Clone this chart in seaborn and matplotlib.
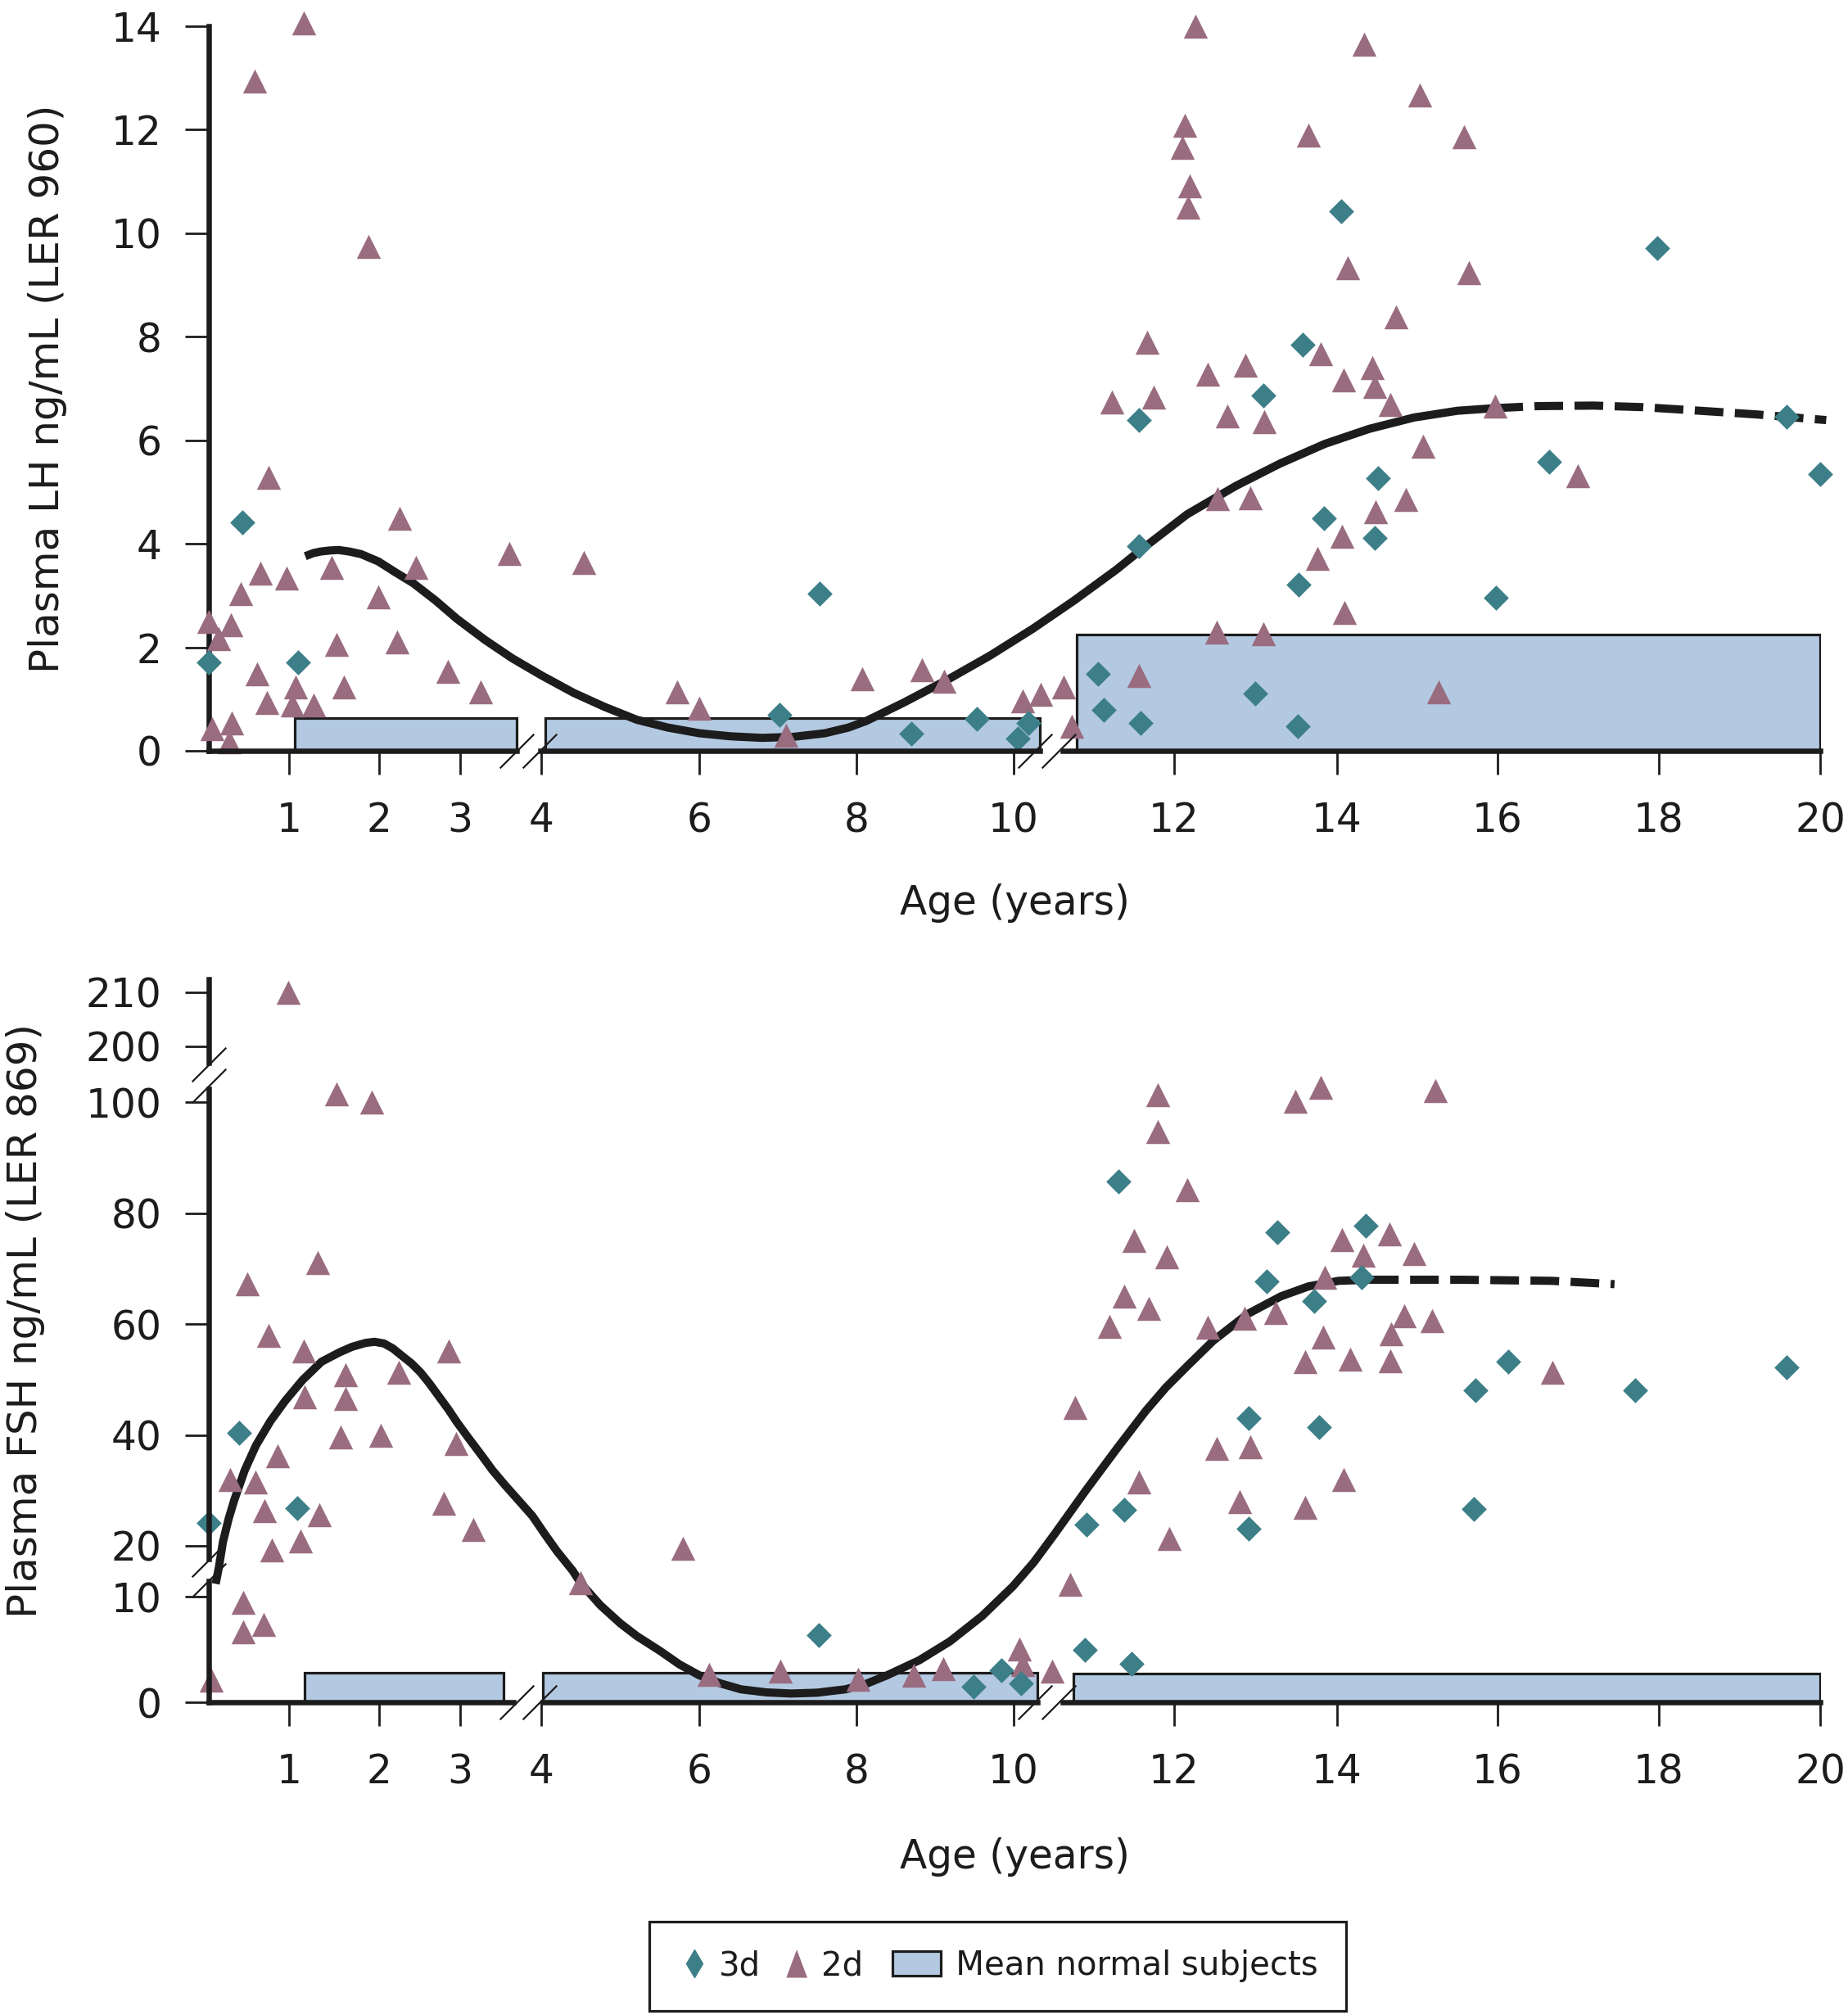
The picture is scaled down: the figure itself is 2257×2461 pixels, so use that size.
import numpy as np
import pandas as pd
import matplotlib
matplotlib.use("Agg")
import matplotlib.pyplot as plt
import seaborn as sns
from matplotlib.lines import Line2D
from matplotlib.patches import Patch, Rectangle
from matplotlib.legend_handler import HandlerPatch

AGE_KNOTS = [-1, 0, 1, 2, 3, 4, 6, 8, 10, 12, 14, 16, 18, 20, 21]
AGE_POS = [156, 254.5, 353, 463, 562, 661, 854, 1046, 1238, 1434, 1633, 1829, 2026, 2223.5, 2322]
FSH_KNOTS = [-10, 0, 10, 11.5, 17, 20, 100, 104, 196, 200, 210, 220]
FSH_POS = [-128.8, 0, 128.8, 148.1, 171.0, 191.3, 732.8, 759.8, 775.5, 801.6, 867.3, 933]

X_TICKS = [1, 2, 3, 4, 6, 8, 10, 12, 14, 16, 18, 20]
X_LABELS = ["1", "2", "3", "4", "6", "8", "10", "12", "14", "16", "18", "20"]
LH_TICKS = [0, 2, 4, 6, 8, 10, 12, 14]
FSH_TICKS = [0, 10, 20, 40, 60, 80, 100, 200, 210]

# ---------------- LH panel data (age, ng/mL) ----------------
LH_2D = [(1.16, 14.06), (0.57, 12.94), (1.88, 9.74), (0.75, 5.28), (2.25, 4.50), (1.47, 3.54),
         (2.45, 3.54), (3.61, 3.81), (0.64, 3.44), (0.97, 3.33), (0.40, 3.04), (1.99, 2.97),
         (0.00, 2.50), (0.28, 2.43), (0.13, 2.17), (1.53, 2.05), (2.22, 2.10), (0.60, 1.49),
         (2.85, 1.54), (1.61, 1.24), (1.07, 1.24), (3.25, 1.14), (0.73, 0.94), (1.04, 0.89),
         (1.27, 0.89), (0.05, 0.43), (0.29, 0.53), (0.26, 0.18), (4.54, 3.64), (5.72, 1.14),
         (6.00, 0.82), (7.10, 0.30), (8.07, 1.39), (8.83, 1.56), (9.11, 1.34), (10.11, 0.96),
         (10.34, 1.09), (10.62, 1.23), (10.72, 0.48), (11.56, 1.46), (11.22, 6.74), (11.74, 6.84),
         (11.66, 7.90), (12.26, 14.00), (14.34, 13.65), (15.03, 12.67), (12.13, 12.09),
         (12.10, 11.66), (13.65, 11.89), (15.58, 11.87), (12.19, 10.91), (12.17, 10.50),
         (14.13, 9.34), (15.64, 9.24), (14.73, 8.38), (13.80, 7.68), (14.44, 7.40), (12.87, 7.45),
         (12.41, 7.27), (14.08, 7.17), (14.47, 7.04), (14.66, 6.69), (15.97, 6.66), (12.65, 6.47),
         (13.11, 6.36), (15.07, 5.88), (16.99, 5.31), (12.53, 4.87), (12.93, 4.89), (14.86, 4.85),
         (14.48, 4.62), (14.06, 4.15), (13.76, 3.71), (14.09, 2.68), (12.52, 2.30), (13.10, 2.27),
         (15.27, 1.14)]
LH_3D = [(0.42, 4.42), (0.00, 1.71), (1.10, 1.71), (7.02, 0.69), (7.53, 3.03), (8.70, 0.33),
         (9.53, 0.61), (10.18, 0.53), (10.05, 0.23), (11.05, 1.49), (11.12, 0.79), (11.58, 0.53),
         (11.56, 3.96), (11.56, 6.39), (14.05, 10.42), (17.98, 9.71), (13.58, 7.85), (13.10, 6.87),
         (19.58, 6.46), (16.64, 5.58), (20.00, 5.35), (14.51, 5.26), (13.84, 4.49), (14.47, 4.12),
         (13.53, 3.21), (15.98, 2.96), (12.99, 1.11), (13.52, 0.48)]
LH_CURVE = [(1.18, 3.76), (1.27, 3.82), (1.35, 3.85), (1.45, 3.87), (1.55, 3.88), (1.67, 3.85),
            (1.80, 3.80), (1.99, 3.66), (2.20, 3.45), (2.42, 3.24), (2.70, 2.90), (2.96, 2.55),
            (3.30, 2.15), (3.64, 1.79), (4.00, 1.46), (4.41, 1.12), (4.80, 0.85), (5.21, 0.60),
            (5.60, 0.45), (6.00, 0.34), (6.40, 0.28), (6.80, 0.25), (7.20, 0.27), (7.60, 0.34),
            (7.90, 0.45), (8.13, 0.58), (8.60, 0.93), (9.19, 1.40), (9.70, 1.84), (10.24, 2.36),
            (10.75, 2.90), (11.28, 3.50), (11.56, 3.85), (12.16, 4.57), (12.76, 5.12),
            (13.30, 5.55), (13.85, 5.93), (14.40, 6.22), (14.96, 6.44), (15.50, 6.57),
            (15.96, 6.62)]
LH_CURVE_EXT = [(15.96, 6.62), (16.50, 6.66), (17.19, 6.67), (17.80, 6.64), (18.31, 6.59),
                (19.20, 6.50), (20.07, 6.39)]
LH_BOX_START = [1.06, 4.05, 10.79]
LH_BOX_END = [3.70, 10.33, 20.0]
LH_BOX_MEAN = [0.63, 0.63, 2.25]

# ---------------- FSH panel data (age, ng/mL) ----------------
FSH_2D = [(0.99, 210.0), (1.53, 101.5), (1.92, 100.1), (1.32, 71.1), (0.48, 67.3), (0.75, 57.9),
          (1.16, 55.1), (2.86, 55.1), (1.63, 50.8), (2.24, 51.3), (1.17, 46.8), (1.63, 46.6),
          (1.57, 39.7), (2.02, 40.0), (2.95, 38.4), (0.86, 36.2), (0.27, 31.9), (0.58, 31.5),
          (2.80, 27.7), (0.70, 26.3), (1.34, 25.6), (3.16, 23.0), (1.13, 20.8), (0.79, 19.25),
          (0.43, 9.5), (0.43, 6.7), (0.69, 7.4), (0.04, 2.1), (4.50, 11.34), (5.79, 19.5),
          (6.12, 2.67), (7.03, 2.97), (8.02, 2.18), (8.73, 2.57), (9.10, 3.17), (10.07, 5.05),
          (10.11, 3.56), (10.48, 2.97), (10.70, 11.2), (10.77, 44.9), (11.56, 31.5), (11.94, 21.3),
          (11.19, 59.6), (11.38, 65.0), (11.68, 62.8), (11.50, 75.1), (11.91, 72.1), (11.80, 101.4),
          (11.80, 94.8), (12.16, 84.3), (13.80, 102.7), (13.49, 100.2), (15.22, 102.1),
          (14.06, 75.3), (14.65, 76.2), (14.33, 72.4), (14.96, 72.7), (13.85, 68.4), (13.25, 62.1),
          (12.86, 61.1), (12.41, 59.4), (14.84, 61.5), (15.18, 60.6), (13.83, 57.7), (14.67, 58.2),
          (13.61, 53.2), (14.16, 53.7), (14.66, 53.4), (16.68, 51.3), (12.52, 37.6), (12.93, 37.8),
          (14.08, 31.9), (12.80, 27.9), (13.61, 26.9)]
FSH_3D = [(0.38, 40.3), (1.09, 26.8), (0.00, 24.1), (7.52, 6.39), (9.49, 1.49), (9.84, 3.07),
          (10.09, 1.83), (10.89, 4.95), (10.91, 23.8), (11.38, 26.5), (11.47, 3.7), (11.31, 85.7),
          (13.27, 76.5), (14.36, 77.8), (13.14, 67.7), (14.31, 68.4), (13.72, 64.1), (16.13, 53.2),
          (15.72, 48.0), (17.71, 48.0), (19.58, 52.2), (12.91, 43.0), (13.78, 41.4), (15.70, 26.7),
          (12.91, 23.1)]
FSH_CURVE = [(0.09, 11.24), (0.13, 15.5), (0.18, 20.66), (0.25, 24.8), (0.32, 28.2), (0.45, 33.6),
             (0.59, 38.1), (0.77, 42.5), (0.95, 46.1), (1.15, 49.9), (1.36, 53.2), (1.56, 54.9),
             (1.70, 55.9), (1.85, 56.6), (1.95, 56.8), (2.06, 56.5), (2.17, 55.6), (2.28, 54.3),
             (2.40, 52.9), (2.51, 51.3), (2.62, 49.3), (2.73, 47.1), (2.85, 44.7), (2.96, 42.3),
             (3.10, 39.5), (3.27, 36.2), (3.40, 33.6), (3.55, 31.0), (3.72, 28.2), (3.89, 25.4),
             (4.05, 22.0), (4.20, 19.0), (4.40, 14.5), (4.50, 11.3), (4.75, 9.2), (5.00, 7.5),
             (5.21, 6.29), (5.50, 4.9), (5.75, 3.6), (6.00, 2.57), (6.27, 1.8), (6.53, 1.24),
             (6.85, 0.95), (7.17, 0.84), (7.50, 0.92), (7.86, 1.24), (8.12, 1.75), (8.39, 2.57),
             (8.80, 4.0), (9.19, 5.79), (9.60, 8.2), (9.99, 11.0), (10.25, 17.0), (10.51, 22.1),
             (10.90, 30.0), (11.29, 37.6), (11.65, 44.4), (11.90, 48.6), (12.16, 52.4),
             (12.48, 57.0), (12.90, 61.8), (13.31, 65.0), (13.65, 66.8), (14.02, 67.8),
             (14.41, 68.0)]
FSH_CURVE_EXT = [(14.41, 68.0), (15.53, 68.0), (16.67, 67.8), (17.45, 67.2)]
FSH_BOX_START = [1.17, 4.02, 10.75]
FSH_BOX_END = [3.54, 10.30, 20.0]
FSH_BOX_MEAN = [2.8, 2.8, 2.7]

LEGEND_LABELS = ["3d", "2d", "Mean normal subjects"]

TEAL = "#3d7f88"
MAUVE = "#9a6c80"
BOXFILL = "#b3c9e2"
INK = "#1c1c1c"


def fwd_age(a):
    return np.interp(a, AGE_KNOTS, AGE_POS)


def inv_age(p):
    return np.interp(p, AGE_POS, AGE_KNOTS)


def fwd_fsh(v):
    return np.interp(v, FSH_KNOTS, FSH_POS)


def inv_fsh(p):
    return np.interp(p, FSH_POS, FSH_KNOTS)


def df(pairs):
    return pd.DataFrame(pairs, columns=["age", "value"])


sns.set_style("ticks")
plt.rcParams["font.family"] = ["DejaVu Sans"]
plt.rcParams["axes.edgecolor"] = INK

W, H = 2257, 2461
fig = plt.figure(figsize=(W / 100, H / 100), dpi=100)
ax1 = fig.add_axes([254.5 / W, 1 - 917 / H, 1969 / W, 885 / H])
ax2 = fig.add_axes([254.5 / W, 1 - 2079.2 / H, 1969 / W, 883.1 / H])

SLASH = [(-1, -1), (1, 1)]
CURVE_LW = 7.2


def style_panel(ax, box_start, box_end, box_mean, pts2, pts3, curve, curve_ext,
                xspine, xbreaks):
    ax.set_xscale("function", functions=(fwd_age, inv_age))
    ax.bar(box_start, box_mean, width=np.array(box_end) - np.array(box_start), align="edge",
           color=BOXFILL, edgecolor=INK, linewidth=2.3, zorder=1)
    sns.lineplot(data=df(curve), x="age", y="value", ax=ax, color=INK, linewidth=CURVE_LW,
                 zorder=2, solid_capstyle="butt", solid_joinstyle="round", clip_on=False)
    sns.lineplot(data=df(curve_ext), x="age", y="value", ax=ax, color=INK, linewidth=CURVE_LW,
                 zorder=2, linestyle=(0, (3.5, 1.4)), clip_on=False)
    sns.scatterplot(data=df(pts2), x="age", y="value", ax=ax, marker="^", s=450, color=MAUVE,
                    linewidth=0, zorder=3, clip_on=False)
    sns.scatterplot(data=df(pts3), x="age", y="value", ax=ax, marker="D", s=245, color=TEAL,
                    linewidth=0, zorder=4, clip_on=False)
    ax.set_xlim(0, 20)
    ax.set_xticks(X_TICKS)
    ax.set_xticklabels(X_LABELS)
    ax.xaxis.set_minor_locator(matplotlib.ticker.NullLocator())
    ax.yaxis.set_minor_locator(matplotlib.ticker.NullLocator())
    ax.spines["top"].set_visible(False)
    ax.spines["right"].set_visible(False)
    ax.spines["bottom"].set_visible(False)
    ax.spines["left"].set_linewidth(4.7)
    ax.tick_params(axis="both", direction="out", length=21, width=2.0, color=INK,
                   labelsize=35, labelcolor=INK)
    ax.tick_params(axis="x", pad=23)
    ax.tick_params(axis="y", pad=20)
    xt = ax.get_xaxis_transform()
    for a0, a1 in xspine:
        ax.plot([a0, a1], [0, 0], transform=xt, color=INK, linewidth=4.7,
                solid_capstyle="projecting", clip_on=False, zorder=5)
    for xb in xbreaks:
        ax.plot([xb], [0], transform=xt, marker=SLASH, markersize=30, markeredgewidth=1.6,
                color=INK, linestyle="none", clip_on=False, zorder=6)
    ax.set_xlabel("Age (years)", fontsize=35, color=INK, va="center")


style_panel(ax1, LH_BOX_START, LH_BOX_END, LH_BOX_MEAN, LH_2D, LH_3D, LH_CURVE, LH_CURVE_EXT,
            [(0, 3.70), (3.99, 10.33), (10.61, 20)], [3.70, 3.98, 10.27, 10.56])
ax1.set_ylim(0, 14)
ax1.set_yticks(LH_TICKS)
ax1.set_yticklabels([str(t) for t in LH_TICKS])
ax1.set_ylabel("Plasma LH ng/mL (LER 960)", fontsize=36, color=INK, va="center", ha="center")
ax1.yaxis.set_label_coords(-0.0998, 0.5)
ax1.xaxis.set_label_coords(0.5, -0.210)

ax2.set_yscale("function", functions=(fwd_fsh, inv_fsh))
style_panel(ax2, FSH_BOX_START, FSH_BOX_END, FSH_BOX_MEAN, FSH_2D, FSH_3D, FSH_CURVE,
            FSH_CURVE_EXT, [(0, 3.66), (4.02, 10.30), (10.61, 20)], [3.70, 3.98, 10.27, 10.56])
ax2.set_ylim(0, 212.4)
ax2.set_yticks(FSH_TICKS)
ax2.set_yticklabels([str(t) for t in FSH_TICKS])
ax2.spines["left"].set_visible(False)
yt = ax2.get_yaxis_transform()
for v0, v1 in [(0, 11.6), (17.6, 102.4), (196.9, 212.4)]:
    ax2.plot([0, 0], [v0, v1], transform=yt, color=INK, linewidth=4.7,
             solid_capstyle="projecting", clip_on=False, zorder=5)
for yb in [11.8, 17.4, 103.0, 196.5]:
    ax2.plot([0], [yb], transform=yt, marker=SLASH, markersize=30, markeredgewidth=1.6,
             color=INK, linestyle="none", clip_on=False, zorder=6)
ax2.set_ylabel("Plasma FSH ng/mL (LER 869)", fontsize=36, color=INK, va="center", ha="center")
ax2.yaxis.set_label_coords(-0.1135, 0.528)
ax2.xaxis.set_label_coords(0.5, -0.2138)

for ax in (ax1, ax2):
    leg = ax.get_legend()
    if leg is not None:
        leg.remove()


def wide_box(legend, orig_handle, xdescent, ydescent, width, height, fontsize):
    # legend swatch drawn wider than the marker handles (units: points)
    return Rectangle((-xdescent + 8.0, -ydescent), 43.0, height)


handles = [
    Line2D([0], [0], marker="d", color=TEAL, linestyle="none", markersize=17.5),
    Line2D([0], [0], marker=[(0, 1), (-0.75, -1), (0.75, -1)], color=MAUVE, linestyle="none",
           markersize=23.5),
    Patch(facecolor=BOXFILL, edgecolor=INK, linewidth=2.3),
]
labels = [LEGEND_LABELS[0], LEGEND_LABELS[1], "   " + LEGEND_LABELS[2]]
leg = fig.legend(handles, labels, loc="center",
                 bbox_to_anchor=(0.5399, 0.0242), ncol=3, fontsize=29, frameon=True,
                 fancybox=False, edgecolor=INK, framealpha=1, borderpad=0.85,
                 handlelength=1.0, handleheight=0.77, handletextpad=0.25, columnspacing=0.6,
                 handler_map={Patch: HandlerPatch(patch_func=wide_box)})
leg.get_frame().set_linewidth(2.3)
for t in leg.get_texts():
    t.set_color(INK)

fig.savefig("out.png", dpi=100)
